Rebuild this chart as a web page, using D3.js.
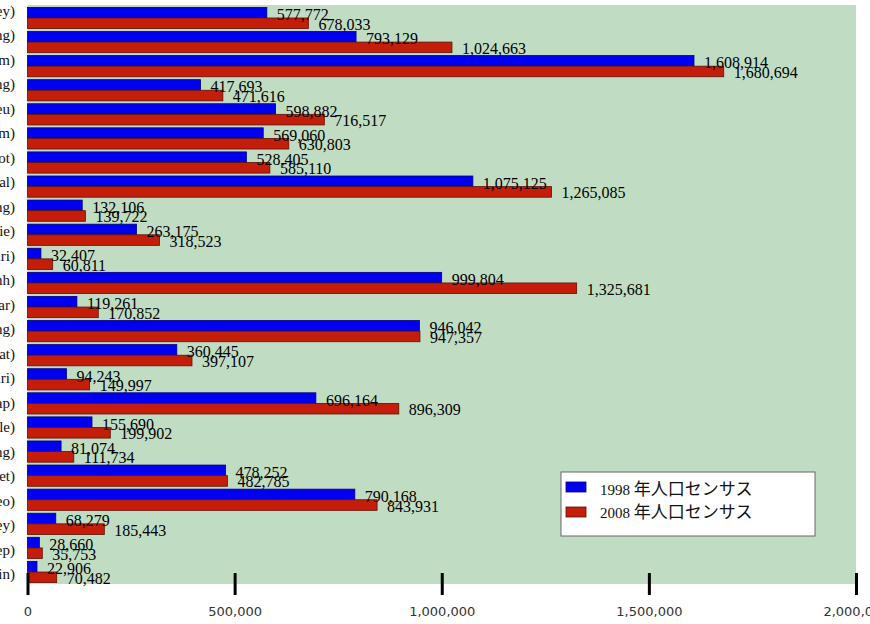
<!DOCTYPE html>
<html>
<head>
<meta charset="utf-8">
<script src="https://cdn.jsdelivr.net/npm/d3@7"></script>
<style>
  body { margin: 0; background: #fff; }
  svg { display: block; }
</style>
</head>
<body>
<svg id="chart"></svg>
<script>
// provinces (labels are cut off at the left edge in the source)
const provinces = ["(Banteay Meanchey)", "(Battambang)", "(Kampong Cham)", "(Kampong Chhnang)",
  "(Kampong Speu)", "(Kampong Thom)", "(Kampot)", "(Kandal)", "(Koh Kong)", "(Kratie)",
  "(Mondul Kiri)", "(Phnom Penh)", "(Preah Vihear)", "(Prey Veng)", "(Pursat)", "(Ratanak Kiri)",
  "(Siem Reap)", "(Sihanoukville)", "(Stung Treng)", "(Svay Riet)", "(Takeo)", "(Otdar Meanchey)",
  "(Kep)", "(Pailin)"];
const pop1998 = [577772, 793129, 1608914, 417693, 598882, 569060, 528405, 1075125, 132106, 263175,
  32407, 999804, 119261, 946042, 360445, 94243, 696164, 155690, 81074, 478252, 790168, 68279, 28660, 22906];
const pop2008 = [678033, 1024663, 1680694, 471616, 716517, 630803, 585110, 1265085, 139722, 318523,
  60811, 1325681, 170852, 947357, 397107, 149997, 896309, 199902, 111734, 482785, 843931, 185443, 35753, 70482];
const seriesYears = ["1998", "2008"];
const seriesSuffix = " 年人口センサス";
const xTicks = [0, 500000, 1000000, 1500000, 2000000];

const width = 870, height = 624;
const colors = ["#0000f0", "#c41e0a"];
const strokes = ["#00007a", "#5a1208"];

const svg = d3.select("#chart").attr("width", width).attr("height", height);

const data = provinces.map((p, i) => ({name: p, vals: [pop1998[i], pop2008[i]]}));

const x = d3.scaleLinear().domain([0, 2000000]).range([27.5, 856]);
const y = d3.scaleBand().domain(provinces).range([4.5, 585.5]).padding(0.12);
const y2 = d3.scaleBand().domain([0, 1]).range([0, y.bandwidth()]);
// category labels sit on a slightly different pitch than the bars
const yLab = d3.scalePoint().domain(provinces).range([11, 574]);

// plot background
svg.append("rect")
  .attr("x", x(0)).attr("y", 5)
  .attr("width", x(2000000) - x(0)).attr("height", 579)
  .attr("fill", "#c0ddc3");

// category labels
svg.append("g").selectAll("text")
  .data(data).enter().append("text")
  .attr("x", 15)
  .attr("y", d => yLab(d.name) + 5)
  .attr("text-anchor", "end")
  .style("font-family", "Liberation Serif")
  .style("font-size", "15px")
  .attr("fill", "#111")
  .text(d => d.name);

// bars
const groups = svg.append("g").selectAll("g")
  .data(data).enter().append("g")
  .attr("transform", d => `translate(0,${y(d.name)})`);

groups.selectAll("rect")
  .data(d => d.vals.map((v, k) => ({v, k})))
  .enter().append("rect")
  .attr("x", x(0))
  .attr("y", d => y2(d.k))
  .attr("width", d => x(d.v) - x(0))
  .attr("height", y2.bandwidth())
  .attr("fill", d => colors[d.k])
  .attr("stroke", d => strokes[d.k])
  .attr("stroke-width", 0.8);

groups.selectAll("text")
  .data(d => d.vals.map((v, k) => ({v, k})))
  .enter().append("text")
  .attr("x", d => x(d.v) + 10)
  .attr("y", d => y2(d.k) + y2.bandwidth() / 2 + (d.k === 0 ? 7.5 : 6.5))
  .style("font-family", "Liberation Serif")
  .style("font-size", "16px")
  .attr("fill", "#000")
  .text(d => d3.format(",")(d.v));

// x axis
const axis = svg.append("g")
  .attr("transform", "translate(0,573)")
  .call(d3.axisBottom(x).tickValues(xTicks).tickSize(22).tickPadding(12).tickFormat(d3.format(",")));
axis.select(".domain").remove();
axis.selectAll(".tick line").attr("stroke", "#000").attr("stroke-width", 3);
axis.selectAll(".tick text")
  .style("font-family", "DejaVu Sans")
  .style("font-size", "13px")
  .attr("fill", "#333");

// legend
const legend = svg.append("g").attr("transform", "translate(561,472)");
legend.append("rect")
  .attr("width", 254).attr("height", 64)
  .attr("fill", "#fff").attr("stroke", "#666").attr("stroke-width", 1);
seriesYears.forEach((s, k) => {
  legend.append("rect")
    .attr("x", 5).attr("y", 10 + k * 25)
    .attr("width", 20).attr("height", 10)
    .attr("fill", colors[k]).attr("stroke", strokes[k]).attr("stroke-width", 0.8);
  const t = legend.append("text")
    .attr("x", 39).attr("y", 23 + k * 23)
    .attr("fill", "#111");
  t.append("tspan")
    .style("font-family", "Liberation Serif")
    .style("font-size", "15px")
    .text(s);
  t.append("tspan")
    .style("font-family", "'Noto Sans CJK JP'")
    .style("font-size", "17px")
    .text(seriesSuffix);
});
</script>
</body>
</html>
